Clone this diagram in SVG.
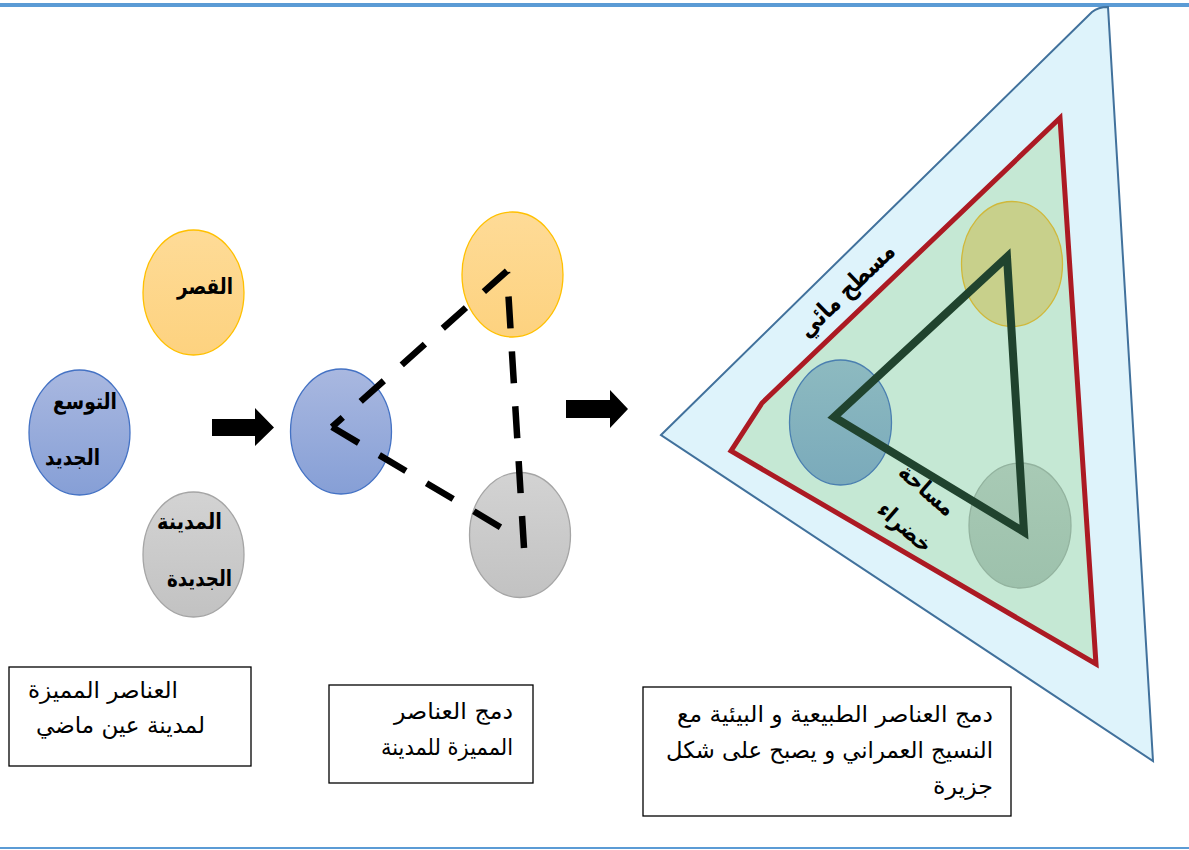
<svg xmlns="http://www.w3.org/2000/svg" width="1189" height="850" viewBox="0 0 1189 850">
<style>
.lbl{font-family:"DejaVu Sans","Liberation Sans",sans-serif;font-weight:bold;font-size:22px;fill:#000}
.rot{font-family:"DejaVu Sans","Liberation Sans",sans-serif;font-weight:bold;font-size:25px;fill:#000}
.txt{font-family:"DejaVu Sans","Liberation Sans",sans-serif;font-size:23px;fill:#000}
.box{fill:#fff;stroke:#000;stroke-width:1.3}
.dash{stroke:#000;stroke-width:6.5;fill:none;stroke-dasharray:31 24}
.arrow{fill:#000}
.orange{fill:url(#gO);stroke:#ffc000;stroke-width:1.3}
.blue{fill:url(#gB);stroke:#4472c4;stroke-width:1.3}
.gray{fill:url(#gG);stroke:#a5a5a5;stroke-width:1.3}
</style>
<defs>
<linearGradient id="gO" x1="0" y1="0" x2="0" y2="1"><stop offset="0" stop-color="#fedb97"/><stop offset="1" stop-color="#fdd27f"/></linearGradient>
<linearGradient id="gB" x1="0" y1="0" x2="0" y2="1"><stop offset="0" stop-color="#a9b8e0"/><stop offset="1" stop-color="#869fd6"/></linearGradient>
<linearGradient id="gG" x1="0" y1="0" x2="0" y2="1"><stop offset="0" stop-color="#d3d3d3"/><stop offset="1" stop-color="#c2c2c2"/></linearGradient>
<linearGradient id="gT" x1="0" y1="0" x2="0" y2="1"><stop offset="0" stop-color="#8dbac0"/><stop offset="1" stop-color="#7aaabb"/></linearGradient>
<linearGradient id="gGG" x1="0" y1="0" x2="0" y2="1"><stop offset="0" stop-color="#a8cab5"/><stop offset="1" stop-color="#9dc1ac"/></linearGradient>
</defs>
<rect width="1189" height="850" fill="#fff"/>
<line x1="0" y1="5" x2="1189" y2="5" stroke="#5b9bd5" stroke-width="4"/>
<line x1="0" y1="848" x2="1189" y2="848" stroke="#5b9bd5" stroke-width="2"/>

<g id="node-qasr"><ellipse class="orange" cx="193.5" cy="292.5" rx="50.5" ry="62.5"/><text class="lbl" x="233" y="294" text-anchor="end" textLength="56" lengthAdjust="spacingAndGlyphs">القصر</text></g>
<g id="node-tawassu"><ellipse class="blue" cx="79.5" cy="432.5" rx="50.5" ry="62.5"/><text class="lbl" x="117" y="409" text-anchor="end" textLength="64" lengthAdjust="spacingAndGlyphs">التوسع</text><text class="lbl" x="100" y="465" text-anchor="end" textLength="55" lengthAdjust="spacingAndGlyphs">الجديد</text></g>
<g id="node-madina"><ellipse class="gray" cx="193.5" cy="554.5" rx="50.5" ry="62.5"/><text class="lbl" x="222" y="529" text-anchor="end" textLength="65" lengthAdjust="spacingAndGlyphs">المدينة</text><text class="lbl" x="232" y="586" text-anchor="end" textLength="65" lengthAdjust="spacingAndGlyphs">الجديدة</text></g>

<g id="node-m-orange"><ellipse class="orange" cx="512.5" cy="274.5" rx="50.5" ry="62.5"/></g>
<g id="node-m-blue"><ellipse class="blue" cx="341" cy="431.5" rx="50.5" ry="62.5"/></g>
<g id="node-m-gray"><ellipse class="gray" cx="520" cy="535" rx="50.5" ry="62.5"/></g>

<g id="island">
<path d="M661,435 L1092,12 Q1098,7 1108,7 L1153,761 Z" fill="#def3fb" stroke="#41719c" stroke-width="2"/>
<polygon points="1060,118 1096,664 731,451 762,403" fill="#c5e8d4" stroke="#ac1a23" stroke-width="5"/>
<ellipse cx="1012" cy="264" rx="50.5" ry="62.5" fill="#c8d08b" stroke="#d0b83a" stroke-width="1.3"/>
<ellipse cx="840.5" cy="422.5" rx="51" ry="62.5" fill="url(#gT)" stroke="#4a7fb0" stroke-width="1.3"/>
<ellipse cx="1020" cy="525.5" rx="51" ry="62.5" fill="url(#gGG)" stroke="#93b39f" stroke-width="1.3"/>
<polygon points="1007,257 834,417 1024,532" fill="none" stroke="#20432e" stroke-width="8"/>
<text class="rot" x="0" y="0" text-anchor="middle" transform="translate(852,296) rotate(-44)" textLength="124" lengthAdjust="spacingAndGlyphs">مسطح مائي</text>
<text class="rot" x="0" y="0" text-anchor="middle" transform="translate(922,496) rotate(41)" textLength="66" lengthAdjust="spacingAndGlyphs" style="font-size:23px">مساحة</text>
<text class="rot" x="0" y="0" text-anchor="middle" transform="translate(900,533) rotate(41)" textLength="64" lengthAdjust="spacingAndGlyphs" style="font-size:23px">خضراء</text>
</g>

<g id="connectors">
<line class="dash" x1="507" y1="271" x2="332" y2="427"/>
<line class="dash" x1="332" y1="427" x2="517" y2="537"/>
<line class="dash" x1="524" y1="548" x2="507" y2="272" style="stroke-dasharray:32 23"/>
<polygon class="arrow" points="212,419 255,419 255,408 274,427.5 255,446 255,436 212,436"/>
<polygon class="arrow" points="566,400 610,400 610,390 628,409 610,428 610,418 566,418"/>
</g>

<g id="box-1"><rect class="box" x="9" y="667" width="242" height="99"/><text class="txt" x="178" y="698" text-anchor="end" textLength="150" lengthAdjust="spacingAndGlyphs">العناصر المميزة</text><text class="txt" x="205" y="733" text-anchor="end" textLength="169" lengthAdjust="spacingAndGlyphs">لمدينة عين ماضي</text></g>
<g id="box-2"><rect class="box" x="329" y="685" width="204" height="98"/><text class="txt" x="513" y="719" text-anchor="end" textLength="119" lengthAdjust="spacingAndGlyphs">دمج العناصر</text><text class="txt" x="513" y="755" text-anchor="end" textLength="132" lengthAdjust="spacingAndGlyphs">المميزة للمدينة</text></g>
<g id="box-3"><rect class="box" x="643" y="687" width="368" height="129"/><text class="txt" x="993" y="722" text-anchor="end" textLength="316" lengthAdjust="spacingAndGlyphs">دمج العناصر الطبيعية و البيئية مع</text><text class="txt" x="993" y="758" text-anchor="end" textLength="327" lengthAdjust="spacingAndGlyphs">النسيج العمراني و يصبح على شكل</text><text class="txt" x="993" y="794" text-anchor="end" textLength="60" lengthAdjust="spacingAndGlyphs">جزيرة</text></g>
</svg>
